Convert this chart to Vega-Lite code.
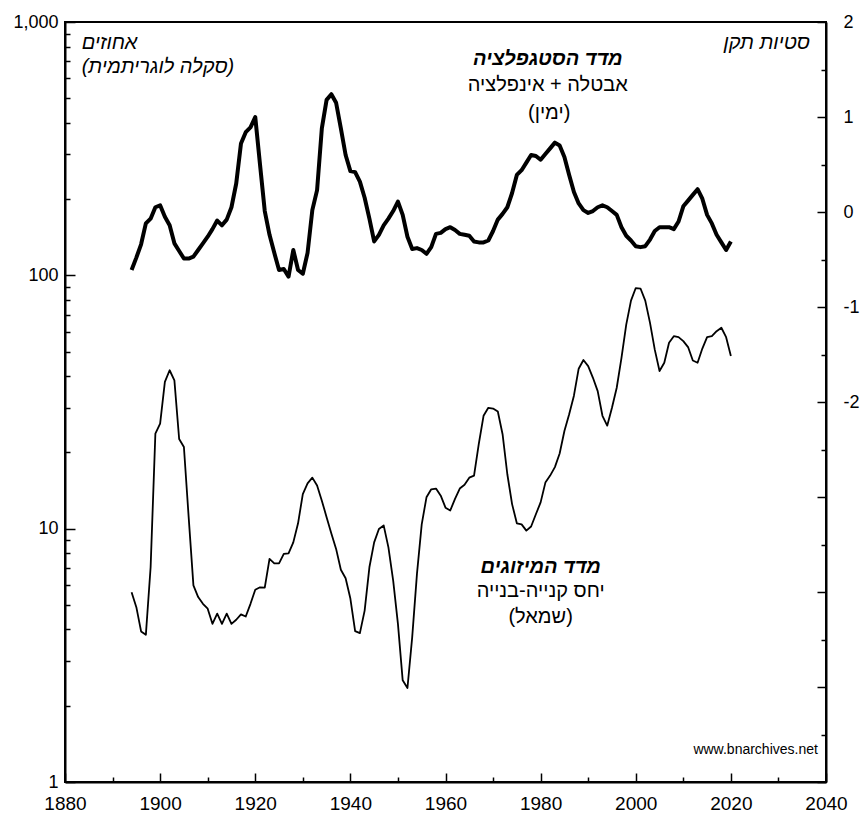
{
  "$schema": "https://vega.github.io/schema/vega-lite/v6.json",
  "width": 761,
  "height": 760,
  "padding": {"left": 65, "top": 22, "right": 38, "bottom": 33},
  "autosize": {"type": "none"},
  "background": "white",
  "config": {
    "view": {"stroke": "black", "strokeWidth": 2},
    "font": "Liberation Sans",
    "axis": {"grid": false, "title": null, "domainColor": "black", "domainWidth": 2, "tickColor": "black", "tickWidth": 1.5, "labelColor": "black", "labelFont": "Liberation Sans", "labelFontSize": 18, "labelFlush": false, "labelOverlap": false}
  },
  "datasets": {
    "mix": [
      {"year":1894,"mix":5.61},{"year":1895,"mix":4.9},{"year":1896,"mix":3.93},{"year":1897,"mix":3.81},{"year":1898,"mix":7.04},{"year":1899,"mix":23.7},
      {"year":1900,"mix":26.0},{"year":1901,"mix":38.0},{"year":1902,"mix":42.2},{"year":1903,"mix":38.5},{"year":1904,"mix":22.6},{"year":1905,"mix":21.0},
      {"year":1906,"mix":11.1},{"year":1907,"mix":5.97},{"year":1908,"mix":5.37},{"year":1909,"mix":5.05},{"year":1910,"mix":4.83},{"year":1911,"mix":4.21},
      {"year":1912,"mix":4.62},{"year":1913,"mix":4.21},{"year":1914,"mix":4.62},{"year":1915,"mix":4.21},{"year":1916,"mix":4.37},{"year":1917,"mix":4.59},
      {"year":1918,"mix":4.5},{"year":1919,"mix":5.05},{"year":1920,"mix":5.74},{"year":1921,"mix":5.87},{"year":1922,"mix":5.85},{"year":1923,"mix":7.6},
      {"year":1924,"mix":7.3},{"year":1925,"mix":7.3},{"year":1926,"mix":7.95},{"year":1927,"mix":7.99},{"year":1928,"mix":8.83},{"year":1929,"mix":10.5},
      {"year":1930,"mix":13.7},{"year":1931,"mix":15.1},{"year":1932,"mix":15.9},{"year":1933,"mix":14.8},{"year":1934,"mix":12.9},{"year":1935,"mix":11.1},
      {"year":1936,"mix":9.58},{"year":1937,"mix":8.32},{"year":1938,"mix":6.88},{"year":1939,"mix":6.37},{"year":1940,"mix":5.3},{"year":1941,"mix":3.94},
      {"year":1942,"mix":3.87},{"year":1943,"mix":4.75},{"year":1944,"mix":7.04},{"year":1945,"mix":8.83},{"year":1946,"mix":9.97},{"year":1947,"mix":10.3},
      {"year":1948,"mix":8.44},{"year":1949,"mix":6.24},{"year":1950,"mix":4.21},{"year":1951,"mix":2.52},{"year":1952,"mix":2.35},{"year":1953,"mix":3.73},
      {"year":1954,"mix":6.63},{"year":1955,"mix":10.4},{"year":1956,"mix":13.3},{"year":1957,"mix":14.3},{"year":1958,"mix":14.4},{"year":1959,"mix":13.5},
      {"year":1960,"mix":12.1},{"year":1961,"mix":11.8},{"year":1962,"mix":13.1},{"year":1963,"mix":14.4},{"year":1964,"mix":14.9},{"year":1965,"mix":15.9},
      {"year":1966,"mix":16.2},{"year":1967,"mix":21.6},{"year":1968,"mix":27.9},{"year":1969,"mix":30.0},{"year":1970,"mix":29.8},{"year":1971,"mix":29.0},
      {"year":1972,"mix":23.6},{"year":1973,"mix":16.4},{"year":1974,"mix":12.5},{"year":1975,"mix":10.5},{"year":1976,"mix":10.4},{"year":1977,"mix":9.82},
      {"year":1978,"mix":10.2},{"year":1979,"mix":11.4},{"year":1980,"mix":12.7},{"year":1981,"mix":15.2},{"year":1982,"mix":16.2},{"year":1983,"mix":17.5},
      {"year":1984,"mix":19.8},{"year":1985,"mix":24.3},{"year":1986,"mix":28.3},{"year":1987,"mix":33.5},{"year":1988,"mix":42.8},{"year":1989,"mix":46.3},
      {"year":1990,"mix":43.8},{"year":1991,"mix":39.4},{"year":1992,"mix":34.9},{"year":1993,"mix":27.9},{"year":1994,"mix":25.5},{"year":1995,"mix":30.0},
      {"year":1996,"mix":36.0},{"year":1997,"mix":47.2},{"year":1998,"mix":63.9},{"year":1999,"mix":79.5},{"year":2000,"mix":89.1},{"year":2001,"mix":88.7},
      {"year":2002,"mix":79.5},{"year":2003,"mix":64.9},{"year":2004,"mix":50.9},{"year":2005,"mix":41.9},{"year":2006,"mix":45.2},{"year":2007,"mix":54.2},
      {"year":2008,"mix":57.5},{"year":2009,"mix":57.0},{"year":2010,"mix":55.0},{"year":2011,"mix":52.1},{"year":2012,"mix":46.1},{"year":2013,"mix":45.2},
      {"year":2014,"mix":51.4},{"year":2015,"mix":57.0},{"year":2016,"mix":57.5},{"year":2017,"mix":60.2},{"year":2018,"mix":62.1},{"year":2019,"mix":57.0},
      {"year":2020,"mix":48.0}
    ],
    "stag": [
      {"year":1894,"stag":-0.61},{"year":1895,"stag":-0.48},{"year":1896,"stag":-0.34},{"year":1897,"stag":-0.12},{"year":1898,"stag":-0.07},{"year":1899,"stag":0.05},
      {"year":1900,"stag":0.07},{"year":1901,"stag":-0.05},{"year":1902,"stag":-0.14},{"year":1903,"stag":-0.33},{"year":1904,"stag":-0.41},{"year":1905,"stag":-0.49},
      {"year":1906,"stag":-0.49},{"year":1907,"stag":-0.47},{"year":1908,"stag":-0.4},{"year":1909,"stag":-0.33},{"year":1910,"stag":-0.26},{"year":1911,"stag":-0.18},
      {"year":1912,"stag":-0.09},{"year":1913,"stag":-0.14},{"year":1914,"stag":-0.08},{"year":1915,"stag":0.05},{"year":1916,"stag":0.3},{"year":1917,"stag":0.72},
      {"year":1918,"stag":0.84},{"year":1919,"stag":0.89},{"year":1920,"stag":1.0},{"year":1921,"stag":0.5},{"year":1922,"stag":0.01},{"year":1923,"stag":-0.24},
      {"year":1924,"stag":-0.43},{"year":1925,"stag":-0.61},{"year":1926,"stag":-0.6},{"year":1927,"stag":-0.68},{"year":1928,"stag":-0.4},{"year":1929,"stag":-0.61},
      {"year":1930,"stag":-0.65},{"year":1931,"stag":-0.43},{"year":1932,"stag":0.02},{"year":1933,"stag":0.23},{"year":1934,"stag":0.88},{"year":1935,"stag":1.18},
      {"year":1936,"stag":1.24},{"year":1937,"stag":1.15},{"year":1938,"stag":0.88},{"year":1939,"stag":0.6},{"year":1940,"stag":0.43},{"year":1941,"stag":0.42},
      {"year":1942,"stag":0.32},{"year":1943,"stag":0.15},{"year":1944,"stag":-0.07},{"year":1945,"stag":-0.31},{"year":1946,"stag":-0.24},{"year":1947,"stag":-0.14},
      {"year":1948,"stag":-0.07},{"year":1949,"stag":0.01},{"year":1950,"stag":0.11},{"year":1951,"stag":-0.03},{"year":1952,"stag":-0.26},{"year":1953,"stag":-0.39},
      {"year":1954,"stag":-0.38},{"year":1955,"stag":-0.4},{"year":1956,"stag":-0.44},{"year":1957,"stag":-0.37},{"year":1958,"stag":-0.23},{"year":1959,"stag":-0.22},
      {"year":1960,"stag":-0.18},{"year":1961,"stag":-0.16},{"year":1962,"stag":-0.19},{"year":1963,"stag":-0.23},{"year":1964,"stag":-0.24},{"year":1965,"stag":-0.25},
      {"year":1966,"stag":-0.31},{"year":1967,"stag":-0.32},{"year":1968,"stag":-0.32},{"year":1969,"stag":-0.3},{"year":1970,"stag":-0.2},{"year":1971,"stag":-0.08},
      {"year":1972,"stag":-0.02},{"year":1973,"stag":0.05},{"year":1974,"stag":0.2},{"year":1975,"stag":0.39},{"year":1976,"stag":0.44},{"year":1977,"stag":0.52},
      {"year":1978,"stag":0.6},{"year":1979,"stag":0.59},{"year":1980,"stag":0.55},{"year":1981,"stag":0.61},{"year":1982,"stag":0.67},{"year":1983,"stag":0.73},
      {"year":1984,"stag":0.7},{"year":1985,"stag":0.58},{"year":1986,"stag":0.39},{"year":1987,"stag":0.21},{"year":1988,"stag":0.09},{"year":1989,"stag":0.02},
      {"year":1990,"stag":-0.01},{"year":1991,"stag":0.01},{"year":1992,"stag":0.05},{"year":1993,"stag":0.07},{"year":1994,"stag":0.05},{"year":1995,"stag":0.01},
      {"year":1996,"stag":-0.03},{"year":1997,"stag":-0.16},{"year":1998,"stag":-0.25},{"year":1999,"stag":-0.3},{"year":2000,"stag":-0.36},{"year":2001,"stag":-0.37},
      {"year":2002,"stag":-0.36},{"year":2003,"stag":-0.29},{"year":2004,"stag":-0.2},{"year":2005,"stag":-0.16},{"year":2006,"stag":-0.16},{"year":2007,"stag":-0.16},
      {"year":2008,"stag":-0.18},{"year":2009,"stag":-0.1},{"year":2010,"stag":0.06},{"year":2011,"stag":0.12},{"year":2012,"stag":0.18},{"year":2013,"stag":0.24},
      {"year":2014,"stag":0.14},{"year":2015,"stag":-0.03},{"year":2016,"stag":-0.12},{"year":2017,"stag":-0.24},{"year":2018,"stag":-0.32},{"year":2019,"stag":-0.4},
      {"year":2020,"stag":-0.31}
    ]
  },
  "layer": [
    {
      "data": {"name": "mix"},
      "mark": {"type": "line", "stroke": "black", "strokeWidth": 1.8, "strokeJoin": "round"},
      "encoding": {
        "x": {
          "field": "year", "type": "quantitative",
          "scale": {"domain": [1880, 2040], "nice": false, "zero": false},
          "axis": {
            "values": [1880,1885,1890,1895,1900,1905,1910,1915,1920,1925,1930,1935,1940,1945,1950,1955,1960,1965,1970,1975,1980,1985,1990,1995,2000,2005,2010,2015,2020,2025,2030,2035,2040],
            "format": "d",
            "labelExpr": "datum.value % 20 === 0 ? datum.label : ''",
            "tickSize": {"condition": {"test": "datum.value % 20 === 0", "value": -9}, "value": -5},
            "labelPadding": 21,
            "labelFontSize": 19
          }
        },
        "y": {
          "field": "mix", "type": "quantitative",
          "scale": {"type": "log", "domain": [1, 1000], "nice": false},
          "axis": {
            "orient": "left",
            "values": [1,2,3,4,5,6,7,8,9,10,20,30,40,50,60,70,80,90,100,200,300,400,500,600,700,800,900,1000],
            "labelExpr": "(datum.value === 1 || datum.value === 10 || datum.value === 100 || datum.value === 1000) ? format(datum.value, ',') : ''",
            "tickSize": {"condition": {"test": "datum.value === 1 || datum.value === 10 || datum.value === 100 || datum.value === 1000", "value": -10}, "value": -5},
            "labelPadding": 17
          }
        }
      }
    },
    {
      "layer": [
        {
          "data": {"name": "stag"},
          "mark": {"type": "line", "stroke": "black", "strokeWidth": 4, "strokeJoin": "round"},
          "encoding": {
            "x": {"field": "year", "type": "quantitative"},
            "y": {
              "field": "stag", "type": "quantitative",
              "scale": {"domain": [-6, 2], "nice": false, "zero": false},
              "axis": {
                "orient": "right",
                "values": [-6,-5.5,-5,-4.5,-4,-3.5,-3,-2.5,-2,-1.5,-1,-0.5,0,0.5,1,1.5,2],
                "labelExpr": "(datum.value >= -2 && datum.value % 1 === 0) ? ('' + datum.value) : ''",
                "tickSize": {"condition": {"test": "datum.value % 1 === 0", "value": -9}, "value": -5},
                "labelPadding": 26
              }
            }
          }
        },
        {
          "data": {"values": [{}]},
          "mark": {"type": "text", "text": "אחוזים", "align": "left", "baseline": "middle", "fontStyle": "italic", "fontSize": 20, "font": "Liberation Sans"},
          "encoding": {"x": {"datum": 1883.5, "type": "quantitative"}, "y": {"datum": 1.779, "type": "quantitative"}}
        },
        {
          "data": {"values": [{}]},
          "mark": {"type": "text", "text": "(סקלה לוגריתמית)", "align": "left", "baseline": "middle", "fontStyle": "italic", "fontSize": 20, "font": "Liberation Sans"},
          "encoding": {"x": {"datum": 1883.5, "type": "quantitative"}, "y": {"datum": 1.526, "type": "quantitative"}}
        },
        {
          "data": {"values": [{}]},
          "mark": {"type": "text", "text": "סטיות תקן", "align": "right", "baseline": "middle", "fontStyle": "italic", "fontSize": 20, "font": "Liberation Sans"},
          "encoding": {"x": {"datum": 2036.6, "type": "quantitative"}, "y": {"datum": 1.779, "type": "quantitative"}}
        },
        {
          "data": {"values": [{}]},
          "mark": {"type": "text", "text": "מדד הסטגפלציה", "align": "center", "baseline": "middle", "fontStyle": "italic", "fontWeight": "bold", "fontSize": 20, "font": "Liberation Sans"},
          "encoding": {"x": {"datum": 1981.5, "type": "quantitative"}, "y": {"datum": 1.611, "type": "quantitative"}}
        },
        {
          "data": {"values": [{}]},
          "mark": {"type": "text", "text": "אבטלה + אינפלציה", "align": "center", "baseline": "middle", "fontSize": 20, "font": "Liberation Sans"},
          "encoding": {"x": {"datum": 1981.5, "type": "quantitative"}, "y": {"datum": 1.337, "type": "quantitative"}}
        },
        {
          "data": {"values": [{}]},
          "mark": {"type": "text", "text": "(ימין)", "align": "center", "baseline": "middle", "fontSize": 20, "font": "Liberation Sans"},
          "encoding": {"x": {"datum": 1981.8, "type": "quantitative"}, "y": {"datum": 1.042, "type": "quantitative"}}
        },
        {
          "data": {"values": [{}]},
          "mark": {"type": "text", "text": "מדד המיזוגים", "align": "center", "baseline": "middle", "fontStyle": "italic", "fontWeight": "bold", "fontSize": 20, "font": "Liberation Sans"},
          "encoding": {"x": {"datum": 1980, "type": "quantitative"}, "y": {"datum": -3.734, "type": "quantitative"}}
        },
        {
          "data": {"values": [{}]},
          "mark": {"type": "text", "text": "יחס קנייה-בנייה", "align": "center", "baseline": "middle", "fontSize": 20, "font": "Liberation Sans"},
          "encoding": {"x": {"datum": 1980, "type": "quantitative"}, "y": {"datum": -3.99, "type": "quantitative"}}
        },
        {
          "data": {"values": [{}]},
          "mark": {"type": "text", "text": "(שמאל)", "align": "center", "baseline": "middle", "fontSize": 20, "font": "Liberation Sans"},
          "encoding": {"x": {"datum": 1980, "type": "quantitative"}, "y": {"datum": -4.26, "type": "quantitative"}}
        },
        {
          "data": {"values": [{}]},
          "mark": {"type": "text", "text": "www.bnarchives.net", "align": "right", "baseline": "middle", "fontSize": 14, "font": "Liberation Sans"},
          "encoding": {"x": {"datum": 2038.3, "type": "quantitative"}, "y": {"datum": -5.66, "type": "quantitative"}}
        }
      ]
    }
  ],
  "resolve": {"scale": {"y": "independent"}}
}
